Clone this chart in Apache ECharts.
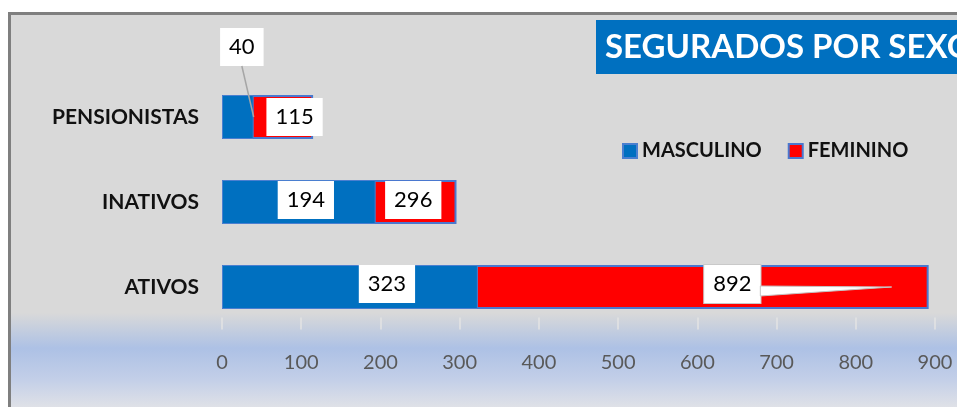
<!DOCTYPE html>
<html><head><meta charset="utf-8">
<script src="https://cdn.jsdelivr.net/npm/echarts@6/dist/echarts.min.js"></script>
<style>
html,body{margin:0;padding:0;background:#fff;overflow:hidden;}
#panel{position:absolute;left:8px;top:12px;width:949px;height:395px;border-left:3px solid #7f7f7f;border-top:3px solid #7f7f7f;box-sizing:border-box;
background:linear-gradient(to bottom,#d9d9d9 0%,#d9d9d9 76%,#adc1e5 85%,#c3cfe8 93%,#dfe1e7 100%);}
#chart{position:absolute;left:0;top:0;width:957px;height:407px;}
</style></head><body>
<div id="panel"></div><div id="chart"></div>
<script>
const categories = ['ATIVOS', 'INATIVOS', 'PENSIONISTAS'];
const seriesNames = ['MASCULINO', 'FEMININO'];
const masculino = [323, 194, 40];
const feminino = [892, 296, 115];
const xMin = 0, xMax = 900, xStep = 100;

// label offsets (styling only), relative to bar centre
const mascOffsets = [[37, -3], [7, -2], [4, -70]];
const femOffsets = [[157, -3], [74, -2], [27, 0]];

const FONT = 'Lato';
const labelBase = {
  show: true, position: 'inside', color: '#000', backgroundColor: '#fff',
  fontFamily: FONT, fontSize: 22, padding: [8, 9], lineHeight: 22
};

const chart = echarts.init(document.getElementById('chart'), null, {renderer: 'canvas'});
const option = {
  backgroundColor: 'transparent',
  animation: false,
  title: {
    text: 'SEGURADOS POR SEXO', left: 596, top: 20,
    backgroundColor: '#0070c0', padding: [10, 9, 9, 9],
    textStyle: {color: '#fff', fontFamily: FONT, fontWeight: 'bold', fontSize: 33, lineHeight: 35}
  },
  legend: {
    data: seriesNames, left: 617, top: 136, itemWidth: 14, itemHeight: 14, itemGap: 26,
    icon: 'rect',
    textStyle: {fontFamily: FONT, fontWeight: 'bold', fontSize: 20, color: '#111'}
  },
  grid: {left: 222, right: 22, top: 74.5, bottom: 77.5},
  xAxis: {
    type: 'value', min: xMin, max: xMax, interval: xStep,
    axisLine: {show: false},
    splitLine: {show: false},
    axisTick: {show: true, inside: true, length: 12, lineStyle: {color: '#e4e4e4', width: 1.5}},
    axisLabel: {color: '#595959', fontFamily: FONT, fontSize: 20, margin: 23}
  },
  yAxis: {
    type: 'category', data: categories,
    axisLine: {show: false}, axisTick: {show: false},
    axisLabel: {color: '#111', fontFamily: FONT, fontWeight: 'bold', fontSize: 21, margin: 23}
  },
  series: [
    {
      name: 'FEMININO', type: 'bar', barWidth: 44, barGap: '-100%', z: 2,
      itemStyle: {color: '#ff0000', borderColor: '#4a78cf', borderWidth: 2},
      data: feminino.map((v, i) => ({value: v, label: Object.assign({}, labelBase, {offset: femOffsets[i]},
        i === 0 ? {borderColor: '#c9c9c9', borderWidth: 1} : {})}))
    },
    {
      name: 'MASCULINO', type: 'bar', barWidth: 44, barGap: '-100%', z: 3,
      itemStyle: {color: '#0070c0', borderColor: '#4a7fd0', borderWidth: 1},
      data: masculino.map((v, i) => ({value: v, label: Object.assign({}, labelBase, {offset: mascOffsets[i]})}))
    }
  ]
};
chart.setOption(option);

// callouts built from the library's own scale
function px(v, c) { return chart.convertToPixel({gridIndex: 0}, [v, c]); }
const lblH = 38;
// leader line for PENSIONISTAS masculino label
const pi = 2;
const endP = px(masculino[pi], pi);
const midP = px(masculino[pi] / 2, pi);
const lblC = [midP[0] + mascOffsets[pi][0], midP[1] + mascOffsets[pi][1]];
// wedge for ATIVOS feminino label
const ai = 0;
const endA = px(feminino[ai], ai);
const midA = px(feminino[ai] / 2, ai);
const lblA = [midA[0] + femOffsets[ai][0], midA[1] + femOffsets[ai][1]];
const lblAright = lblA[0] + 29;
chart.setOption({
  graphic: [
    {type: 'line', z: 100, shape: {x1: lblC[0], y1: lblC[1] + lblH / 2, x2: endP[0], y2: endP[1]},
      style: {stroke: '#a6a6a6', lineWidth: 1.5}},
    {type: 'polygon', z: 100, shape: {points: [[lblAright - 1, endA[1] - 1], [lblAright - 1, endA[1] + 9], [endA[0] - 37, endA[1]]]},
      style: {fill: '#fff', stroke: '#c4c4c4', lineWidth: 1}}
  ]
});
</script>
</body></html>
